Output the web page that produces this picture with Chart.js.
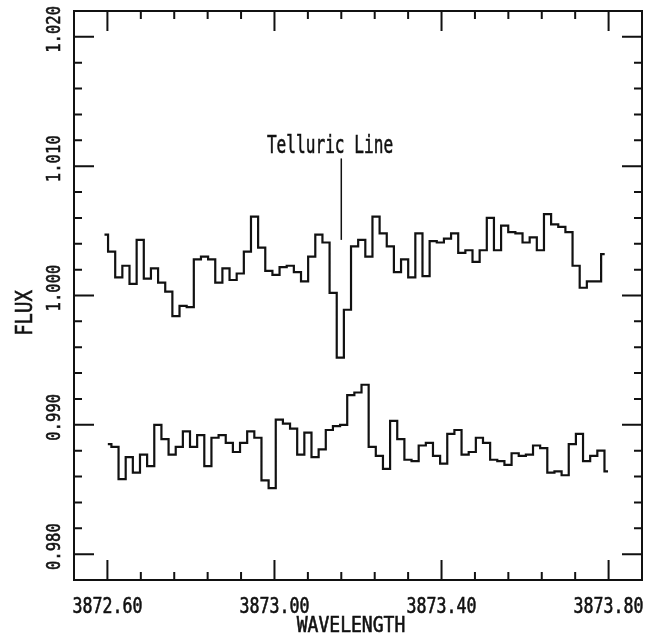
<!DOCTYPE html>
<html>
<head>
<meta charset="utf-8">
<title>Telluric line spectrum</title>
<script src="https://cdn.jsdelivr.net/npm/chart.js@4.4.1/dist/chart.umd.min.js"></script>
<style>
  html, body { margin: 0; padding: 0; background: #fff; }
  #wrap { width: 651px; height: 634px; }
</style>
</head>
<body>
<div id="wrap"><canvas id="spectrum" width="651" height="634"></canvas></div>
<script>
// flux per wavelength bin (upper = spectrum with the telluric dip)
const upperFlux = [
  1.0047, 1.0034, 1.0014, 1.0023, 1.0009, 1.0043, 1.0013, 1.0021, 1.0010, 1.0003,
  0.9984, 0.9992, 0.9991, 1.0028, 1.0030, 1.0028, 1.0010, 1.0021, 1.0012, 1.0017,
  1.0034, 1.0061, 1.0037, 1.0019, 1.0016, 1.0022, 1.0023, 1.0018, 1.0011, 1.0030,
  1.0047, 1.0041, 1.0002, 0.9952, 0.9989, 1.0038, 1.0043, 1.0030, 1.0061, 1.0048,
  1.0038, 1.0018, 1.0028, 1.0014, 1.0048, 1.0015, 1.0042, 1.0041, 1.0044, 1.0048,
  1.0033, 1.0035, 1.0026, 1.0035, 1.0060, 1.0035, 1.0054, 1.0049, 1.0048, 1.0041,
  1.0045, 1.0035, 1.0063, 1.0055, 1.0053, 1.0049, 1.0023, 1.0006, 1.0011, 1.0011,
  1.0032
];
const lowerFlux = [
  0.9885, 0.9883, 0.9858, 0.9875, 0.9863, 0.9877, 0.9868, 0.9900, 0.9889, 0.9877,
  0.9883, 0.9895, 0.9883, 0.9892, 0.9868, 0.9890, 0.9892, 0.9886, 0.9879, 0.9886,
  0.9895, 0.9890, 0.9857, 0.9851, 0.9904, 0.9901, 0.9897, 0.9877, 0.9894, 0.9875,
  0.9881, 0.9896, 0.9899, 0.9900, 0.9923, 0.9925, 0.9931, 0.9883, 0.9876, 0.9866,
  0.9903, 0.9889, 0.9873, 0.9872, 0.9884, 0.9886, 0.9876, 0.9870, 0.9893, 0.9896,
  0.9877, 0.9879, 0.9890, 0.9886, 0.9873, 0.9872, 0.9869, 0.9878, 0.9876, 0.9877,
  0.9884, 0.9882, 0.9863, 0.9864, 0.9861, 0.9885, 0.9893, 0.9872, 0.9876, 0.9880,
  0.9864
];
// wavelength grid (first bin centre and bin width, in Angstrom)
const upperStart = 3872.593;
const lowerStart = 3872.601;
const binWidth = 0.01711;

const xTickLabels = ['3872.60', '3873.00', '3873.40', '3873.80'];
const yTickLabels = ['0.980', '0.990', '1.000', '1.010', '1.020'];
const xTitle = 'WAVELENGTH';
const yTitle = 'FLUX';
const markerLabel = 'Telluric Line';

function toPoints(start, values) {
  return values.map((v, i) => ({ x: start + i * binWidth, y: v }));
}

function isLabelled(value, labels) {
  return labels.some((l) => Math.abs(parseFloat(l) - value) < 1e-6);
}

// plotter style lettering: narrow mono glyphs
function plotterText(ctx, text, px, py, size, squeeze, angle) {
  ctx.save();
  ctx.translate(px, py);
  ctx.rotate(angle || 0);
  ctx.scale(squeeze, 1);
  ctx.font = size + 'px "DejaVu Sans Mono", "Liberation Mono", monospace';
  ctx.textAlign = 'center';
  ctx.textBaseline = 'alphabetic';
  ctx.lineWidth = 0.6;
  ctx.fillText(text, 0, 0);
  ctx.strokeText(text, 0, 0);
  ctx.restore();
}

const plotterFrame = {
  id: 'plotterFrame',
  afterDatasetsDraw(chart) {
    const { ctx, chartArea: a } = chart;
    const xs = chart.scales.x;
    const ys = chart.scales.y;
    ctx.save();
    ctx.strokeStyle = '#111';
    ctx.fillStyle = '#111';
    ctx.lineWidth = 2;
    ctx.lineCap = 'butt';
    ctx.strokeRect(a.left, a.top, a.right - a.left, a.bottom - a.top);

    // inward tick marks on all four sides
    ctx.beginPath();
    xs.ticks.forEach((t) => {
      const px = xs.getPixelForValue(t.value);
      if (px <= a.left + 1 || px >= a.right - 1) return;
      const len = isLabelled(t.value, xTickLabels) ? 20 : 8;
      ctx.moveTo(px, a.bottom);
      ctx.lineTo(px, a.bottom - len);
      ctx.moveTo(px, a.top);
      ctx.lineTo(px, a.top + len);
    });
    ys.ticks.forEach((t) => {
      const py = ys.getPixelForValue(t.value);
      if (py <= a.top + 1 || py >= a.bottom - 1) return;
      const len = isLabelled(t.value, yTickLabels) ? 20 : 8;
      ctx.moveTo(a.left, py);
      ctx.lineTo(a.left + len, py);
      ctx.moveTo(a.right, py);
      ctx.lineTo(a.right - len, py);
    });
    ctx.stroke();

    xTickLabels.forEach((l) => {
      plotterText(ctx, l, xs.getPixelForValue(parseFloat(l)), a.bottom + 33, 20.5, 0.81);
    });
    yTickLabels.forEach((l) => {
      plotterText(ctx, l, a.left - 14, ys.getPixelForValue(parseFloat(l)) - 7.5, 19.5, 0.8, -Math.PI / 2);
    });
    plotterText(ctx, xTitle, (a.left + a.right) / 2 - 7, a.bottom + 52, 20.5, 0.88);
    plotterText(ctx, yTitle, a.left - 42, 313, 22.5, 0.84, -Math.PI / 2);

    // telluric line marker
    plotterText(ctx, markerLabel, xs.getPixelForValue(3873.133), ys.getPixelForValue(1.0110), 25, 0.645);
    ctx.lineWidth = 1.5;
    ctx.beginPath();
    const mx = xs.getPixelForValue(3873.160);
    ctx.moveTo(mx, ys.getPixelForValue(1.0106));
    ctx.lineTo(mx, ys.getPixelForValue(1.0043));
    ctx.stroke();
    ctx.restore();
  },
};

const stepStyle = {
  stepped: 'middle',
  borderColor: '#111',
  borderWidth: 2.2,
  pointRadius: 0,
  fill: false,
};

const hiddenAxis = {
  type: 'linear',
  grid: { display: false, drawTicks: false, tickLength: 0 },
  border: { display: false },
};

new Chart(document.getElementById('spectrum'), {
  type: 'line',
  data: {
    datasets: [
      { label: 'upper', data: toPoints(upperStart, upperFlux), ...stepStyle },
      { label: 'lower', data: toPoints(lowerStart, lowerFlux), ...stepStyle },
    ],
  },
  options: {
    responsive: false,
    animation: false,
    layout: { padding: { left: 74, right: 9, top: 11, bottom: 54 } },
    plugins: { legend: { display: false }, tooltip: { enabled: false } },
    scales: {
      x: {
        ...hiddenAxis,
        min: 3872.52,
        max: 3873.88,
        ticks: { stepSize: 0.08, display: false, padding: 0 },
      },
      y: {
        ...hiddenAxis,
        min: 0.978,
        max: 1.022,
        ticks: { stepSize: 0.002, display: false, padding: 0 },
      },
    },
  },
  plugins: [plotterFrame],
});
</script>
</body>
</html>
